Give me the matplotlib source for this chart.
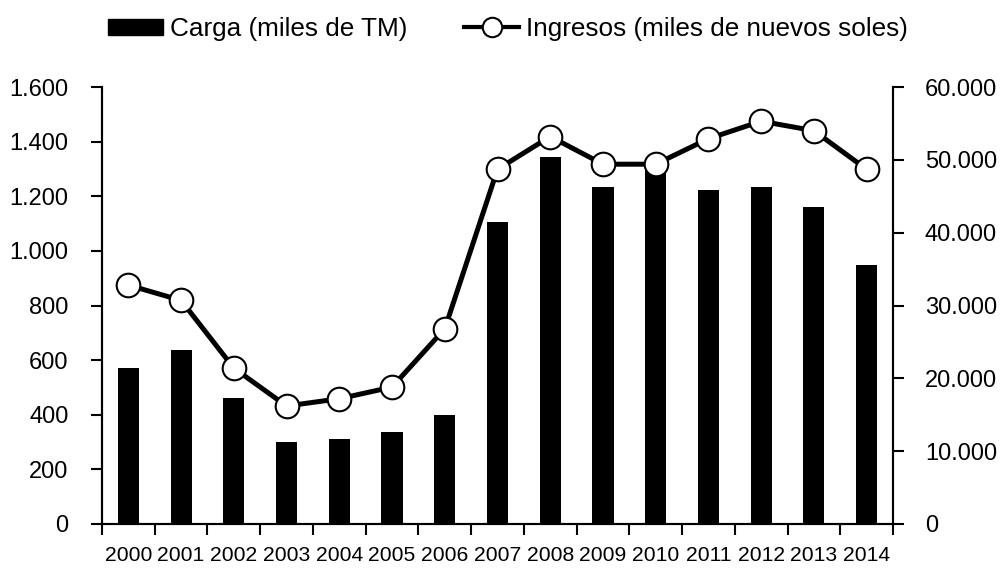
import matplotlib
matplotlib.use("Agg")
import matplotlib.pyplot as plt
import numpy as np
from matplotlib.ticker import FuncFormatter, FixedLocator
from matplotlib.lines import Line2D
from matplotlib.patches import Patch

plt.rcParams['font.family'] = ['Liberation Sans', 'DejaVu Sans']

years = ["2000", "2001", "2002", "2003", "2004", "2005", "2006", "2007",
         "2008", "2009", "2010", "2011", "2012", "2013", "2014"]
carga = [572, 638, 462, 300, 311, 337, 400, 1105, 1344, 1234, 1295, 1222, 1233, 1161, 950]
ingresos = [32800, 30700, 21400, 16200, 17200, 18800, 26800, 48700, 53200,
            49400, 49400, 52900, 55300, 54000, 48700]
label_carga = 'Carga (miles de TM)'
label_ing = 'Ingresos (miles de nuevos soles)'

fig = plt.figure(figsize=(10.02, 5.69), dpi=100)
ax = fig.add_axes([102/1002, 45/569, (893-102)/1002, (524-87)/569])
ax2 = ax.twinx()

x = np.arange(len(years))
ax.bar(x, carga, width=0.4, color='black', zorder=2)
ax2.plot(x, ingresos, color='black', lw=3.6, marker='o', markersize=17,
         markerfacecolor='white', markeredgecolor='black', markeredgewidth=1.5, zorder=3)

ax.set_xlim(-0.5, len(years) - 0.5)
ax.set_ylim(0, 1600)
ax2.set_ylim(0, 60000)
ax.set_yticks(np.arange(0, 1601, 200))
ax2.set_yticks(np.arange(0, 60001, 10000))

fmt = FuncFormatter(lambda v, p: f"{int(v):,}".replace(",", "."))
ax.yaxis.set_major_formatter(fmt)
ax2.yaxis.set_major_formatter(fmt)

ax.set_xticks(x)
ax.set_xticklabels(years, fontsize=15.2)
ax.xaxis.set_minor_locator(FixedLocator(np.arange(-0.5, len(years), 1.0)))
ax.tick_params(axis='x', which='major', length=0, pad=16)
ax.tick_params(axis='x', which='minor', length=8, width=1.5, direction='out')
ax.tick_params(axis='y', length=8, width=1.5, direction='out', labelsize=17, pad=16)
ax2.tick_params(axis='y', length=8, width=1.5, direction='out', labelsize=17, pad=15)

for a in (ax, ax2):
    a.spines['top'].set_visible(False)
    for s in ('left', 'right', 'bottom'):
        a.spines[s].set_linewidth(1.5)

ax.set_zorder(ax2.get_zorder() - 1)
ax2.patch.set_visible(False)

h_bar = Patch(facecolor='black', edgecolor='black')
h_line = Line2D([], [], color='black', lw=3, marker='o', markersize=14,
                markerfacecolor='white', markeredgecolor='black', markeredgewidth=1.5)
fig.legend([h_bar, h_line], [label_carga, label_ing],
           loc='center', bbox_to_anchor=(508/1002, 1 - 29/569), ncol=2, frameon=False,
           fontsize=18.8, handlelength=2.1, handletextpad=0.25, columnspacing=2.2,
           handleheight=0.6, borderpad=0)

fig.savefig("out.png", dpi=100)
